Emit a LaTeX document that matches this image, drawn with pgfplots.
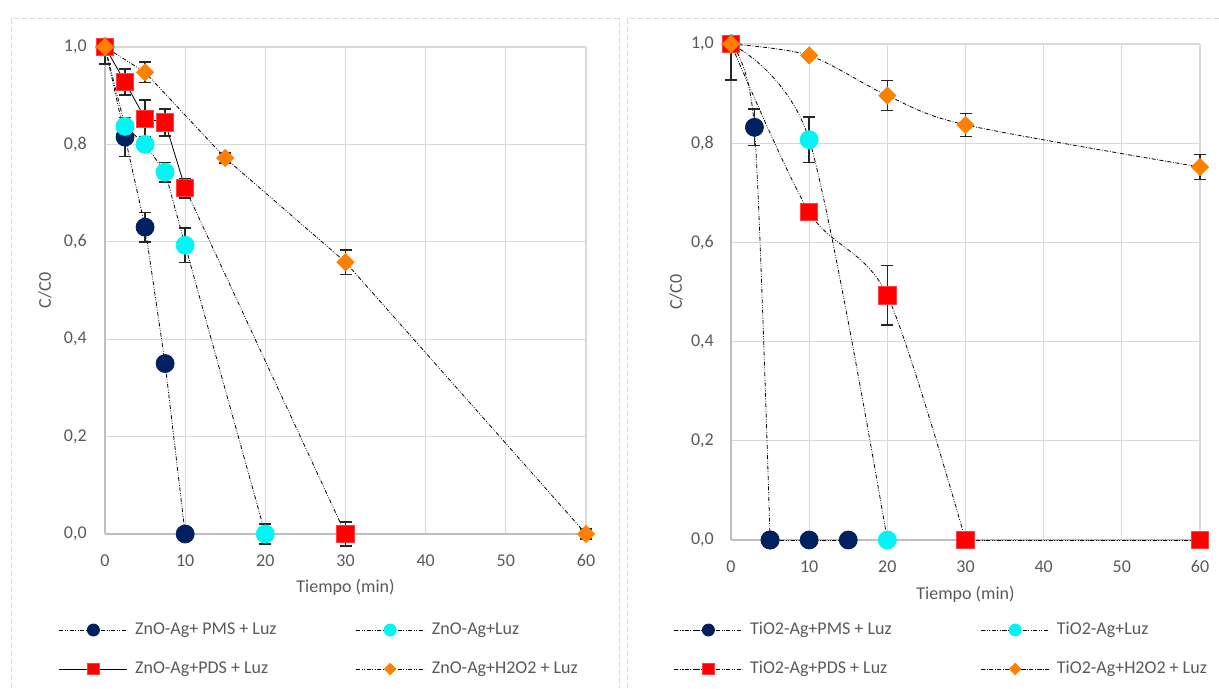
\documentclass[border=0pt]{standalone}
\usepackage{fontspec}
\setmainfont{Carlito}
\usepackage{pgfplots}
\pgfplotsset{compat=1.18}
\definecolor{navy}{HTML}{002060}
\definecolor{cyanx}{HTML}{00F5F5}
\definecolor{redx}{HTML}{FF0000}
\definecolor{redb}{HTML}{FF4040}
\definecolor{orangex}{HTML}{FF8000}
\definecolor{txt}{HTML}{595959}
\definecolor{gridc}{HTML}{D9D9D9}
\definecolor{axc}{HTML}{BFBFBF}
\definecolor{ebar}{HTML}{262626}
\pgfplotsset{
 common/.style={
  scale only axis, clip=false,
  xmin=0,xmax=60,ymin=0,ymax=1,
  xtick={0,10,...,60}, ytick={0,0.2,0.4,0.6,0.8,1},
  major tick length=0pt,
  axis lines*=left,
  axis line style={draw=axc, line width=1pt},
  grid=major, grid style={draw=gridc, line width=0.8pt},
  tick label style={font=\fontsize{13.5}{16}\selectfont, text=txt, inner sep=0pt},
  label style={font=\fontsize{13.5}{16}\selectfont, text=txt},
  /pgf/number format/assume math mode=true,
  yticklabel style={anchor=east, /pgf/number format/fixed, /pgf/number format/fixed zerofill, /pgf/number format/precision=1, /pgf/number format/use comma},
  xticklabel style={anchor=north, yshift=-15.2pt},
  legend style={draw=none, fill=none, inner sep=0pt, outer sep=0pt, anchor=west,
     row sep=16.25pt, column sep=0pt, font=\fontsize{13.5}{16}\selectfont, text=txt,
     nodes={inner sep=0pt, text height=9.5pt, text depth=3.5pt}},
  legend columns=2, legend cell align=left,
  legend image code/.code={\draw[##1, mark repeat=2, mark phase=2] plot coordinates {(0pt,0pt) (25.5pt,0pt) (51pt,0pt)};},
  legend image post style={/tikz/every mark/.append style={scale=0.67}},
  error bars/y dir=both, error bars/y explicit,
  error bars/error bar style={solid, line width=1.1pt, draw=ebar},
  error bars/error mark options={solid, rotate=90, mark size=4.5pt, line width=1.1pt, draw=ebar},
 },
 ddd/.style={black, line width=0.6pt, dash pattern=on 3pt off 1.2pt on 0.6pt off 1.2pt on 0.6pt off 1.2pt},
 dd/.style={black, line width=0.6pt, dash pattern=on 3pt off 1.2pt on 0.6pt off 1.2pt},
 mnavy/.style={mark=*, mark size=6.75pt, mark options={solid, fill=navy, draw=navy}},
 mcyan/.style={mark=*, mark size=6.75pt, mark options={solid, fill=cyanx, draw=cyanx}},
 mred/.style={mark=square*, mark size=6.5pt, mark options={solid, fill=redx, draw=redb, line width=0.6pt}},
 morange/.style={mark=square*, mark size=4.5pt, mark options={solid, rotate=45, fill=orangex, draw=orangex}},
}
\begin{document}
\begin{tikzpicture}
\useasboundingbox (0,0) rectangle (914.25pt,516pt);
\draw[gridc, line width=0.75pt, dash pattern=on 4pt off 2pt] (8.25pt,0pt) -- (8.25pt,501.75pt) -- (464.25pt,501.75pt) -- (464.25pt,0pt);
\draw[gridc, line width=0.75pt, dash pattern=on 4pt off 2pt] (470.25pt,0pt) -- (470.25pt,501.75pt) -- (914.25pt,501.75pt);

\begin{axis}[common,
  at={(78.75pt,115.5pt)}, anchor=south west,
  width=360.75pt, height=365.25pt,
  yticklabel style={xshift=-13.5pt},
  xlabel={Tiempo (min)}, ylabel={C/C0},
  xlabel style={at={(axis description cs:0.5,-0.1088)}, anchor=center},
  ylabel style={at={(axis description cs:-0.1247,0.5)}, anchor=center},
  legend style={at={(axis description cs:-0.0956,-0.2372)}},
]
\addplot[ddd, mnavy] coordinates {(0,1) += (0,0) -= (0,0.035) (2.5,0.815) +- (0,0.04) (5,0.63) +- (0,0.03) (7.5,0.35) +- (0,0.012) (10,0) +- (0,0)};
\addlegendentry{\makebox[171pt][l]{\hspace*{5.5pt}ZnO-Ag+ PMS + Luz}}
\addplot[ddd, mcyan] coordinates {(0,1) +- (0,0) (2.5,0.837) +- (0,0) (5,0.80) +- (0,0) (7.5,0.743) +- (0,0.02) (10,0.593) +- (0,0.035) (20,0) +- (0,0.021)};
\addlegendentry{\hspace*{5.5pt}ZnO-Ag+Luz}
\addplot[ddd, forget plot, mark=none, error bars/y dir=none] coordinates {(10,0.71) (30,0)};
\addplot[black, line width=0.6pt, mred] coordinates {(0,1) +- (0,0) (2.5,0.928) +- (0,0.027) (5,0.853) +- (0,0.038) (7.5,0.845) +- (0,0.028) (10,0.71) +- (0,0.02)};
\addlegendentry{\makebox[171pt][l]{\hspace*{5.5pt}ZnO-Ag+PDS + Luz}}
\addplot[only marks, forget plot, mred] coordinates {(30,0) +- (0,0.025)};
\addplot[ddd, morange] coordinates {(0,1) +- (0,0) (5,0.948) +- (0,0.021) (15,0.772) +- (0,0.01) (30,0.558) +- (0,0.025) (60,0) +- (0,0.01)};
\addlegendentry{\hspace*{5.5pt}ZnO-Ag+H2O2 + Luz}
\end{axis}

\begin{axis}[common,
  at={(548.25pt,111pt)}, anchor=south west,
  width=351.75pt, height=372pt,
  yticklabel style={xshift=-12.75pt},
  xlabel={Tiempo (min)}, ylabel={C/C0},
  xlabel style={at={(axis description cs:0.5,-0.1089)}, anchor=center},
  ylabel style={at={(axis description cs:-0.1173,0.5)}, anchor=center},
  legend style={at={(axis description cs:-0.1215,-0.2208)}},
]
\addplot[ddd, forget plot, mnavy, error bars/y dir=none] coordinates {(5,0) (10,0) (15,0)};
\addplot[ddd, smooth, mnavy] coordinates {(0,1) += (0,0) -= (0,0.073) (3,0.832) +- (0,0.037) (5,0) +- (0,0)};
\addlegendentry{\makebox[178.5pt][l]{\hspace*{5.5pt}TiO2-Ag+PMS + Luz}}
\addplot[ddd, smooth, mcyan] coordinates {(0,1) +- (0,0) (10,0.807) +- (0,0.046) (20,0) +- (0,0)};
\addlegendentry{\hspace*{5.5pt}TiO2-Ag+Luz}
\addplot[ddd, forget plot, mred, error bars/y dir=none] coordinates {(30,0) (60,0)};
\addplot[ddd, smooth, mred] coordinates {(0,1) +- (0,0) (10,0.661) +- (0,0) (20,0.493) +- (0,0.06) (30,0) +- (0,0)};
\addlegendentry{\makebox[178.5pt][l]{\hspace*{5.5pt}TiO2-Ag+PDS + Luz}}
\addplot[dd, smooth, morange] coordinates {(0,1) +- (0,0) (10,0.977) +- (0,0) (20,0.896) +- (0,0.03) (30,0.837) +- (0,0.023) (60,0.752) +- (0,0.025)};
\addlegendentry{\hspace*{5.5pt}TiO2-Ag+H2O2 + Luz}
\end{axis}
\end{tikzpicture}
\end{document}
